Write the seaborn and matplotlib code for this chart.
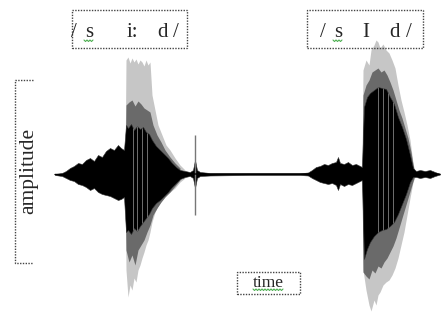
import numpy as np
import pandas as pd
import matplotlib.pyplot as plt
import matplotlib.patches as mpatches
import seaborn as sns

# waveform envelopes (time in ms, relative amplitude)
core_t = [0, 14, 22, 30, 38, 46, 54, 62, 70, 78, 86, 94, 102, 110, 118, 126, 132, 138,
          142, 146, 152, 158, 164, 170, 176, 182, 188, 194, 202, 210, 218, 226, 234, 242,
          250, 260, 270, 276, 280, 284, 290, 310, 390, 490, 506, 514, 522, 530, 538, 546,
          554, 562, 566, 570, 578, 586, 594, 602, 610, 614, 618, 624, 630, 638, 646, 654,
          662, 670, 678, 686, 694, 702, 710, 716, 722, 730, 740, 750, 760, 770]
core_hi = [0.00, 0.01, 0.03, 0.06, 0.08, 0.11, 0.10, 0.14, 0.16, 0.13, 0.19, 0.17, 0.23,
           0.26, 0.24, 0.29, 0.26, 0.24, 0.49, 0.46, 0.50, 0.44, 0.48, 0.45, 0.47, 0.42,
           0.40, 0.34, 0.28, 0.24, 0.20, 0.16, 0.11, 0.07, 0.04, 0.03, 0.02, 0.04, 0.14,
           0.04, 0.02, 0.01, 0.008, 0.008, 0.015, 0.04, 0.07, 0.08, 0.10, 0.09, 0.11, 0.12,
           0.17, 0.11, 0.10, 0.12, 0.09, 0.10, 0.08, 0.07, 0.67, 0.77, 0.81, 0.84, 0.87,
           0.86, 0.85, 0.77, 0.70, 0.57, 0.47, 0.35, 0.19, 0.06, 0.03, 0.04, 0.03, 0.04,
           0.02, 0.00]
core_lo = [-0.01, -0.02, -0.04, -0.06, -0.07, -0.10, -0.11, -0.13, -0.16, -0.14, -0.18,
           -0.20, -0.21, -0.22, -0.24, -0.26, -0.25, -0.23, -0.58, -0.56, -0.60, -0.54,
           -0.57, -0.52, -0.48, -0.44, -0.40, -0.34, -0.29, -0.26, -0.22, -0.18, -0.13,
           -0.09, -0.05, -0.03, -0.02, -0.04, -0.14, -0.04, -0.02, -0.015, -0.01, -0.01,
           -0.015, -0.04, -0.06, -0.08, -0.09, -0.10, -0.09, -0.11, -0.16, -0.10, -0.12,
           -0.10, -0.11, -0.09, -0.07, -0.06, -0.85, -0.75, -0.68, -0.62, -0.58, -0.56,
           -0.55, -0.52, -0.48, -0.40, -0.30, -0.20, -0.08, -0.03, -0.03, -0.04, -0.03,
           -0.04, -0.02, -0.005]

# first vowel /i:/
v1_mid_t = [140, 142, 148, 154, 160, 166, 172, 178, 184, 190, 196, 204, 212, 220, 230, 240, 250]
v1_mid_hi = [0, 0.69, 0.72, 0.74, 0.68, 0.73, 0.70, 0.66, 0.64, 0.62, 0.49, 0.39, 0.32,
             0.24, 0.17, 0.11, 0.06]
v1_mid_lo = [0, -0.76, -0.88, -0.81, -0.91, -0.76, -0.71, -0.66, -0.58, -0.51, -0.41,
             -0.34, -0.28, -0.23, -0.18, -0.12, -0.06]
v1_pk_t = [140, 142, 146, 150, 154, 158, 162, 166, 170, 174, 178, 182, 186, 190, 194,
           200, 206, 214, 222, 230, 240, 250, 260]
v1_pk_hi = [0, 1.14, 1.17, 1.11, 1.16, 1.12, 1.15, 1.10, 1.14, 1.12, 1.08, 1.14, 1.09,
            1.12, 0.79, 0.64, 0.49, 0.39, 0.29, 0.24, 0.16, 0.09, 0.04]
v1_pk_lo = [0, -0.96, -1.23, -1.11, -1.16, -1.04, -1.08, -0.96, -0.91, -0.84, -0.78,
            -0.71, -0.66, -0.58, -0.48, -0.38, -0.32, -0.26, -0.21, -0.18, -0.14, -0.08,
            -0.04]

# second vowel /I/
v2_mid_t = [614, 616, 622, 628, 634, 640, 646, 652, 658, 664, 670, 676, 682, 688, 694,
            700, 706, 712, 718]
v2_mid_hi = [0, 0.79, 0.89, 0.94, 1.02, 1.04, 1.06, 1.02, 1.04, 0.99, 0.92, 0.84, 0.74,
             0.64, 0.56, 0.46, 0.36, 0.22, 0.04]
v2_mid_lo = [0, -0.98, -1.02, -1.05, -0.96, -0.99, -0.92, -0.94, -0.88, -0.84, -0.78,
             -0.72, -0.64, -0.54, -0.44, -0.34, -0.24, -0.14, -0.04]
v2_pk_t = [614, 616, 622, 628, 632, 638, 642, 646, 650, 656, 662, 668, 674, 680, 686,
           692, 698, 704, 710, 716, 720]
v2_pk_hi = [0, 1.04, 1.14, 1.09, 1.24, 1.29, 1.34, 1.32, 1.26, 1.30, 1.24, 1.21, 1.14,
            1.06, 0.89, 0.74, 0.62, 0.49, 0.34, 0.11, 0.02]
v2_pk_lo = [0, -0.96, -1.16, -1.31, -1.37, -1.26, -1.31, -1.21, -1.18, -1.11, -1.08,
            -1.06, -1.01, -0.94, -0.84, -0.71, -0.58, -0.41, -0.24, -0.08, -0.03]

# the click after /d/ and the light striations inside the vowels
click_t, click_hi, click_lo = 280, 0.39, -0.41
stripe_t = [156, 164, 174, 184, 646, 656, 666, 676]

sns.set_theme(style="white")
plt.rcParams['font.family'] = ['Liberation Serif', 'DejaVu Serif']

W, H = 446, 312
fig = plt.figure(figsize=(W / 100, H / 100), dpi=100)
ax = fig.add_axes([0, 0, 1, 1])


def fx(px):
    return px / W


def fy(py):
    return 1 - py / H


wave = pd.DataFrame({'t': core_t, 'hi': core_hi, 'lo': core_lo})
wave['mid'] = (wave['hi'] + wave['lo']) / 2

ax.fill_between(v1_pk_t, v1_pk_lo, v1_pk_hi, color='#c6c6c6', lw=0)
ax.fill_between(v2_pk_t, v2_pk_lo, v2_pk_hi, color='#c6c6c6', lw=0)
ax.fill_between(v1_mid_t, v1_mid_lo, v1_mid_hi, color='#6a6a6a', lw=0)
ax.fill_between(v2_mid_t, v2_mid_lo, v2_mid_hi, color='#6a6a6a', lw=0)
ax.vlines(click_t, click_lo, click_hi, color='#777777', lw=1.0)
ax.fill_between(wave['t'], wave['lo'], wave['hi'], color='black', lw=0.4,
                edgecolor='#333333')
sns.lineplot(data=wave, x='t', y='mid', color='black', lw=1.0, ax=ax)
s_lo = np.interp(stripe_t, core_t, core_lo)
s_hi = np.interp(stripe_t, core_t, core_hi)
ax.vlines(stripe_t, s_lo, s_hi, color='#6f6f6f', lw=0.7)

ax.set_xlim(-110, 782)
ax.set_ylim(-1.38, 1.74)
ax.axis('off')

dot = dict(ls=(0, (1, 1)), color='#444444', lw=1.0)


def box(x0, y0, x1, y1):
    fig.patches.append(mpatches.Rectangle((fx(x0), fy(y1)), fx(x1) - fx(x0),
                                          fy(y0) - fy(y1), transform=fig.transFigure,
                                          fill=False, **dot))


def squiggle(x0, x1, y):
    xs = np.arange(x0, x1 + 0.1, 1.5)
    ys = y + np.where(np.arange(len(xs)) % 2 == 0, 0, 1.5)
    fig.add_artist(plt.Line2D(fx(xs), fy(ys), transform=fig.transFigure,
                              color='#4caf50', lw=0.8))


# phoneme boxes
box(72, 10, 187, 48)
box(307, 10, 423, 48)
for txt, px in [('/', 74), ('s', 89), ('i:', 132), ('d', 163), ('/', 176)]:
    fig.text(fx(px), fy(37), txt, fontsize=15, ha='center', va='baseline')
for txt, px in [('/', 323), ('s', 338), ('I', 366), ('d', 395), ('/', 409)]:
    fig.text(fx(px), fy(37), txt, fontsize=15, ha='center', va='baseline')
squiggle(84, 94, 40)
squiggle(333, 343, 40)

# amplitude bracket
fig.add_artist(plt.Line2D([fx(33), fx(15), fx(15), fx(33)],
                          [fy(80), fy(80), fy(263), fy(263)],
                          transform=fig.transFigure, **dot))
fig.text(fx(29), fy(171), 'amplitude', fontsize=15.5, rotation=90,
         ha='center', va='center')

# time box
box(237, 272, 300, 294)
fig.text(fx(268), fy(287), 'time', fontsize=12.5, ha='center', va='baseline')
squiggle(253, 283, 289)

plt.savefig('out.png', dpi=100)
